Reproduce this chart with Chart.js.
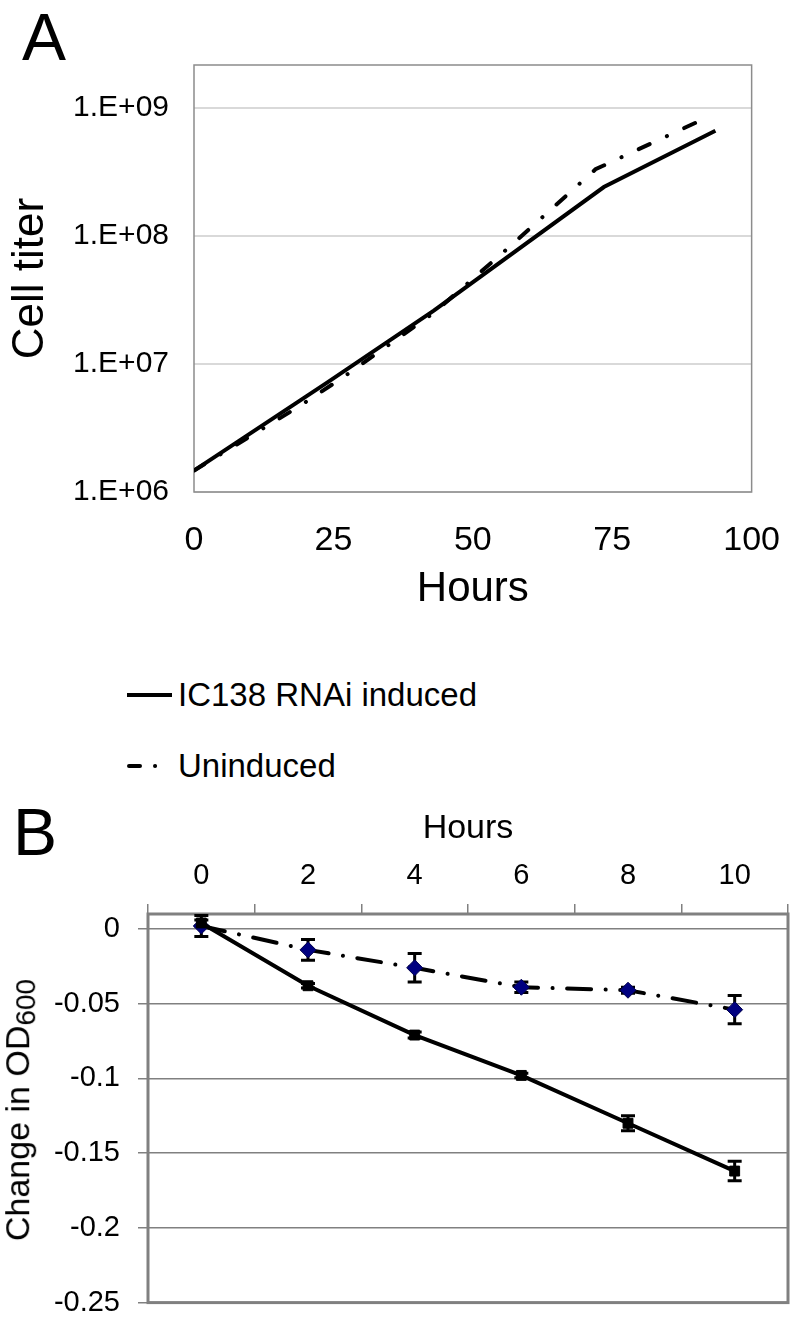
<!DOCTYPE html>
<html>
<head>
<meta charset="utf-8">
<script src="https://cdn.jsdelivr.net/npm/chart.js"></script>
<style>
  body { margin: 0; background: #fff; font-family: 'Liberation Sans', Arial, sans-serif; color: #000; }
  #page { position: relative; width: 800px; height: 1338px; overflow: hidden; }
  .box { position: absolute; left: 0; width: 800px; }
  #wrapA { top: 0; height: 640px; }
  #wrapB { top: 790px; height: 548px; }
  .panel { position: absolute; font-size: 66px; line-height: 1; }
  .legLine { position: absolute; left: 125px; }
  .legText { position: absolute; left: 178px; font-size: 33px; line-height: 40px; white-space: nowrap; }
  #odTitle { position: absolute; left: 20px; top: 1110px; font-size: 34px; white-space: nowrap;
             transform: translate(-50%, -50%) rotate(-90deg); }
  #odTitle sub { font-size: 28px; vertical-align: -0.2em; }
</style>
</head>
<body>
<div id="page">
  <div class="box" id="wrapA"><canvas id="chartA"></canvas></div>
  <div class="box" id="wrapB"><canvas id="chartB"></canvas></div>

  <div class="panel" style="left:22px; top:4px;">A</div>
  <div class="panel" style="left:13px; top:799px;">B</div>

  <svg class="legLine" style="top:690px;" width="50" height="10">
    <line x1="2" y1="5" x2="47" y2="5" stroke="#000" stroke-width="4"/>
  </svg>
  <div class="legText" style="top:675px;">IC138 RNAi induced</div>
  <svg class="legLine" style="top:761px;" width="50" height="10">
    <line x1="4" y1="5" x2="47" y2="5" stroke="#000" stroke-width="4" stroke-linecap="round"
          stroke-dasharray="11 15 0.1 17 0.1 100"/>
  </svg>
  <div class="legText" style="top:746px;">Uninduced</div>

  <div id="odTitle">Change in OD<sub>600</sub></div>
</div>

<script>
// panel A: cell titer vs hours
const hoursInduced   = [0, 24, 43, 73.5, 93.5];
const titerInduced   = [1.47e6, 7.2e6, 2.6e7, 2.4e8, 6.6e8];
const hoursUninduced = [0, 19, 27, 43, 57, 72, 91];
const titerUninduced = [1.47e6, 4.7e6, 8.0e6, 2.5e7, 8.5e7, 3.3e8, 8.0e8];
const titerTicks = [1e6, 1e7, 1e8, 1e9];
const hourTicksA = [0, 25, 50, 75, 100];

// panel B: change in OD600
const timePoints = ['0', '2', '4', '6', '8', '10'];
const odInduced      = [0.004, -0.038, -0.071, -0.098, -0.130, -0.162];
const odInducedErr   = [0.002, 0.0015, 0.002, 0.0015, 0.005, 0.0065];
const odUninduced    = [0.002, -0.014, -0.026, -0.039, -0.041, -0.054];
const odUninducedErr = [0.007, 0.007, 0.0095, 0.0035, 0.002, 0.0095];
const odTicks = [0, -0.05, -0.1, -0.15, -0.2, -0.25];

Chart.defaults.font.family = "'Liberation Sans', Arial, sans-serif";
Chart.defaults.color = '#000';

// frame round the plot area
const plotBox = {
  id: 'plotBox',
  beforeDatasetsDraw(chart, args, opts) {
    const {ctx, chartArea: a} = chart;
    ctx.save();
    ctx.strokeStyle = opts.color;
    ctx.lineWidth = opts.width;
    ctx.strokeRect(a.left, a.top, a.right - a.left, a.bottom - a.top);
    ctx.restore();
  }
};

// vertical error bars, values in dataset.errors
const errorBars = {
  id: 'errorBars',
  beforeDatasetsDraw(chart) {
    const {ctx} = chart;
    const y = chart.scales.y;
    chart.data.datasets.forEach((ds, i) => {
      if (!ds.errors) return;
      const meta = chart.getDatasetMeta(i);
      ctx.save();
      ctx.strokeStyle = '#000';
      ctx.lineWidth = 3;
      meta.data.forEach((pt, j) => {
        const top = y.getPixelForValue(ds.data[j] + ds.errors[j]);
        const bot = y.getPixelForValue(ds.data[j] - ds.errors[j]);
        ctx.beginPath();
        ctx.moveTo(pt.x, top); ctx.lineTo(pt.x, bot);
        ctx.moveTo(pt.x - 7, top); ctx.lineTo(pt.x + 7, top);
        ctx.moveTo(pt.x - 7, bot); ctx.lineTo(pt.x + 7, bot);
        ctx.stroke();
      });
      ctx.restore();
    });
  }
};

new Chart(document.getElementById('chartA'), {
  type: 'line',
  data: {
    datasets: [{
      label: 'IC138 RNAi induced',
      data: hoursInduced.map((h, i) => ({x: h, y: titerInduced[i]})),
      borderColor: '#000',
      borderWidth: 4,
      pointRadius: 0
    }, {
      label: 'Uninduced',
      data: hoursUninduced.map((h, i) => ({x: h, y: titerUninduced[i]})),
      borderColor: '#000',
      borderWidth: 4,
      borderDash: [12, 19, 0.1, 19],
      borderCapStyle: 'round',
      pointRadius: 0
    }]
  },
  options: {
    responsive: true,
    maintainAspectRatio: false,
    animation: false,
    layout: { padding: { top: 65, right: 41, bottom: 0, left: 0 } },
    scales: {
      x: {
        type: 'linear',
        min: 0,
        max: 100,
        afterBuildTicks: s => { s.ticks = hourTicksA.map(v => ({value: v})); },
        afterFit: s => { s.height = 148; },
        grid: { display: false },
        border: { display: false },
        ticks: { font: { size: 34 }, padding: 20 },
        title: { display: true, text: 'Hours', font: { size: 42 }, padding: { top: 0, bottom: 25 } }
      },
      y: {
        type: 'logarithmic',
        min: 1e6,
        max: 2.15e9,
        afterBuildTicks: s => { s.ticks = titerTicks.map(v => ({value: v})); },
        afterFit: s => { s.width = 194; },
        grid: { color: '#d9d9d9', lineWidth: 2, drawTicks: false },
        border: { display: false },
        ticks: {
          font: { size: 30 },
          padding: 25,
          callback: v => '1.E+' + String(Math.round(Math.log10(v))).padStart(2, '0')
        },
        title: { display: true, text: 'Cell titer', font: { size: 44 }, padding: { top: 4, bottom: 0 } }
      }
    },
    plugins: {
      legend: { display: false },
      tooltip: { enabled: false },
      plotBox: { color: '#8c8c8c', width: 1.5 }
    }
  },
  plugins: [plotBox]
});

new Chart(document.getElementById('chartB'), {
  type: 'line',
  data: {
    labels: timePoints,
    datasets: [{
      label: 'IC138 RNAi induced',
      data: odInduced,
      errors: odInducedErr,
      borderColor: '#000',
      borderWidth: 4,
      pointStyle: 'rect',
      pointRadius: 7,
      pointBackgroundColor: '#000',
      pointBorderColor: '#000',
      pointBorderWidth: 1
    }, {
      label: 'Uninduced',
      data: odUninduced,
      errors: odUninducedErr,
      borderColor: '#000',
      borderWidth: 4,
      borderDash: [24, 14.5, 0.1, 14.5],
      borderCapStyle: 'round',
      pointStyle: 'rectRot',
      pointRadius: 8,
      pointBackgroundColor: '#000080',
      pointBorderColor: '#00004d',
      pointBorderWidth: 1
    }]
  },
  options: {
    responsive: true,
    maintainAspectRatio: false,
    animation: false,
    layout: { padding: { top: 0, right: 12, bottom: 32, left: 0 } },
    scales: {
      x: {
        position: 'top',
        offset: true,
        afterFit: s => { s.height = 124; },
        grid: { offset: true, drawOnChartArea: false, tickLength: 10, color: '#808080', lineWidth: 1.5 },
        border: { display: false },
        ticks: { font: { size: 29 }, padding: 11 },
        title: { display: true, text: 'Hours', font: { size: 34 }, padding: { top: 18, bottom: 0 } }
      },
      y: {
        min: -0.25,
        max: 0.01,
        afterBuildTicks: s => { s.ticks = odTicks.map(v => ({value: v})); },
        afterFit: s => { s.width = 148; },
        grid: { color: '#808080', lineWidth: 1.5, tickLength: 10 },
        border: { display: false },
        ticks: { font: { size: 29 }, padding: 18, callback: v => String(v) }
      }
    },
    plugins: {
      legend: { display: false },
      tooltip: { enabled: false },
      plotBox: { color: '#808080', width: 3 }
    }
  },
  plugins: [plotBox, errorBars]
});
</script>
</body>
</html>
